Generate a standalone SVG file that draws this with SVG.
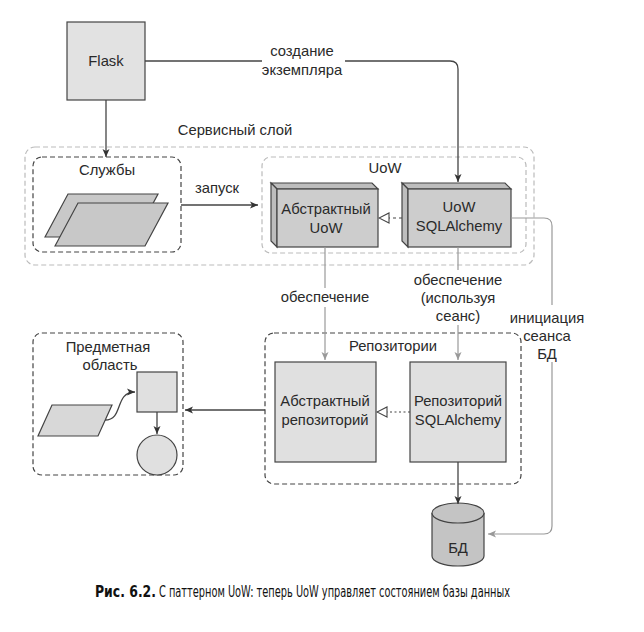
<svg xmlns="http://www.w3.org/2000/svg" width="644" height="632" viewBox="0 0 644 632">
<defs>
<style>
text{font-family:"Liberation Sans",Arial,sans-serif;font-size:14.8px;fill:#2a2a2a;text-anchor:middle}
.cap{font-family:"DejaVu Sans Condensed","DejaVu Sans",sans-serif;font-size:15px;text-anchor:start;fill:#111}
.box{stroke:#444;stroke-width:1.2}
.dk{fill:none;stroke:#444;stroke-width:1.2;stroke-dasharray:5,3}
.lt{fill:none;stroke:#bbb;stroke-width:1.2;stroke-dasharray:5,3}
.blk{fill:none;stroke:#444;stroke-width:1.3}
.gry{fill:none;stroke:#999;stroke-width:1.2}
</style>
<marker id="ab" markerWidth="10" markerHeight="10" refX="9" refY="5" orient="auto" markerUnits="userSpaceOnUse"><path d="M1,1.5 L9,5 L1,8.5 L3,5 Z" fill="#333"/></marker>
<marker id="ag" markerWidth="10" markerHeight="10" refX="9" refY="5" orient="auto" markerUnits="userSpaceOnUse"><path d="M1,1.5 L9,5 L1,8.5 L3,5 Z" fill="#999"/></marker>
<marker id="tri" markerWidth="12" markerHeight="12" refX="11" refY="6" orient="auto" markerUnits="userSpaceOnUse"><path d="M1,1 L11,6 L1,11 Z" fill="#fff" stroke="#444" stroke-width="1.1"/></marker>
</defs>

<g id="service-layer">
<rect class="lt" x="25" y="147" width="509" height="118" rx="10"/>
<text x="235" y="135">Сервисный слой</text>
</g>

<g id="flask">
<rect class="box" x="67" y="22" width="78" height="78" fill="#e2e2e2"/>
<text x="106" y="66">Flask</text>
</g>

<g id="services">
<rect class="dk" x="33" y="157" width="148" height="95" rx="9"/>
<text x="107" y="175">Службы</text>
<polygon class="box" points="45,237 68,194 158,194 135,237" fill="#c8c8c8"/>
<polygon class="box" points="55,246 78,203 168,203 145,246" fill="#c8c8c8"/>
</g>

<g id="uow">
<rect class="lt" x="262" y="157" width="264" height="96" rx="9"/>
<text x="385" y="173">UoW</text>
</g>

<g id="abstract-uow">
<polygon class="box" points="271,183 372,183 378,189 277,189" fill="#bdbdbd"/>
<polygon class="box" points="271,183 277,189 277,247 271,241" fill="#bdbdbd"/>
<rect class="box" x="277" y="189" width="101" height="58" fill="#cdcdcd"/>
<text x="326" y="214">Абстрактный</text>
<text x="326" y="233">UoW</text>
</g>

<g id="sqlalchemy-uow">
<polygon class="box" points="402,183 505,183 511,189 408,189" fill="#bdbdbd"/>
<polygon class="box" points="402,183 408,189 408,247 402,241" fill="#bdbdbd"/>
<rect class="box" x="408" y="189" width="103" height="58" fill="#cdcdcd"/>
<text x="459" y="212">UoW</text>
<text x="459" y="231">SQLAlchemy</text>
</g>

<g id="repositories">
<rect class="dk" x="265" y="333" width="256" height="151" rx="9"/>
<text x="393" y="351">Репозитории</text>
</g>

<g id="abstract-repo">
<rect class="box" x="275" y="362" width="101" height="100" fill="#e0e0e0"/>
<text x="325" y="406">Абстрактный</text>
<text x="325" y="425">репозиторий</text>
</g>

<g id="sqlalchemy-repo">
<rect class="box" x="410" y="362" width="96" height="100" fill="#e0e0e0"/>
<text x="458" y="406">Репозиторий</text>
<text x="458" y="425">SQLAlchemy</text>
</g>

<g id="domain">
<rect class="dk" x="33" y="333" width="150" height="142" rx="9"/>
<text x="108" y="352">Предметная</text>
<text x="110" y="370">область</text>
<polygon class="box" points="52,405 112,405 98,436 38,436" fill="#d8d8d8"/>
<rect class="box" x="137" y="372" width="40" height="40" fill="#e0e0e0"/>
<circle class="box" cx="157" cy="455" r="20" fill="#e0e0e0"/>
</g>

<g id="db">
<path class="box" d="M432,513 V556 A26,10 0 0 0 484,556 V513" fill="#c4c4c4"/>
<ellipse class="box" cx="458" cy="513" rx="26" ry="10" fill="#c4c4c4"/>
<text x="458" y="553">БД</text>
</g>

<g id="connectors">
<path class="blk" d="M145,61 H262"/>
<path class="blk" d="M345,61 H450 Q458,61 458,69 V182" marker-end="url(#ab)"/>
<text x="302" y="56">создание</text>
<text x="302" y="75">экземпляра</text>
<path class="blk" d="M106,100 V157" marker-end="url(#ab)"/>
<path class="blk" d="M181,205 H258" marker-end="url(#ab)"/>
<text x="217" y="193">запуск</text>
<path fill="none" stroke="#444" stroke-width="1.2" stroke-dasharray="3,3" d="M402,218 H379" marker-end="url(#tri)"/>
<path class="gry" d="M325,247 V288"/>
<path class="gry" d="M325,307 V360" marker-end="url(#ag)"/>
<text x="325" y="302">обеспечение</text>
<path class="gry" d="M458,247 V270"/>
<path class="gry" d="M458,325 V360" marker-end="url(#ag)"/>
<text x="458" y="285">обеспечение</text>
<text x="458" y="303">(используя</text>
<text x="458" y="321">сеанс)</text>
<path class="gry" d="M511,218 H544 Q552,218 552,226 V305"/>
<path class="gry" d="M552,362 V526 Q552,534 544,534 H488" marker-end="url(#ag)"/>
<text x="547" y="323">инициация</text>
<text x="547" y="341">сеанса</text>
<text x="547" y="359">БД</text>
<path fill="none" stroke="#444" stroke-width="1.2" stroke-dasharray="2,2.5" d="M410,412 H377" marker-end="url(#tri)"/>
<path class="blk" d="M458,462 V504" marker-end="url(#ab)"/>
<path class="blk" d="M265,410 H185" marker-end="url(#ab)"/>
<path class="blk" d="M157,412 V434" marker-end="url(#ab)"/>
<path class="blk" d="M105,420 C124,420 114,392 135,392" marker-end="url(#ab)"/>
</g>

<text class="cap" x="95" y="597" font-weight="bold" textLength="61" lengthAdjust="spacingAndGlyphs">Рис. 6.2.</text>
<text class="cap" x="159" y="597" textLength="351" lengthAdjust="spacingAndGlyphs">С паттерном UoW: теперь UoW управляет состоянием базы данных</text>
</svg>
